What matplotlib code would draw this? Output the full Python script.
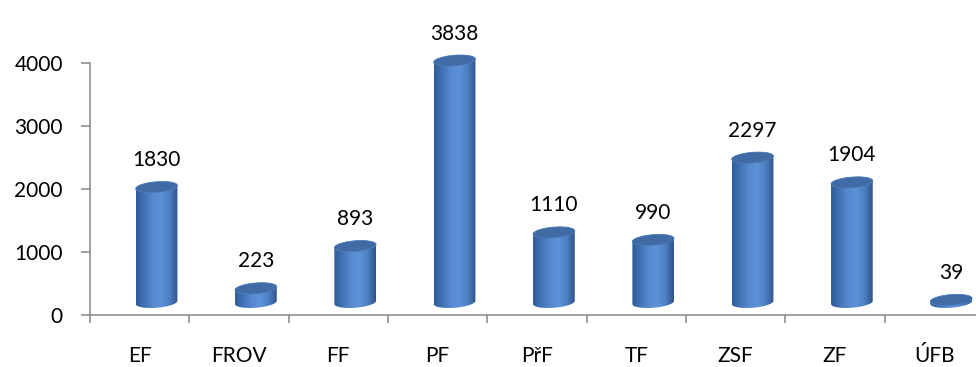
import numpy as np
import matplotlib
matplotlib.use("Agg")
import matplotlib.pyplot as plt
from matplotlib.patches import Polygon
from matplotlib.colors import LinearSegmentedColormap

# data
faculties = ["EF", "FROV", "FF", "PF", "PřF", "TF", "ZSF", "ZF", "ÚFB"]
counts = [1830, 223, 893, 3838, 1110, 990, 2297, 1904, 39]
yticks = [0, 1000, 2000, 3000, 4000]

plt.rcParams["font.family"] = ["Lato", "DejaVu Sans"]
FS = 15
GREY = "#868686"

fig = plt.figure(figsize=(9.76, 3.67), dpi=100)
# y scale ~0.063 px per unit, axes extends a bit past the right edge like the original
ax = fig.add_axes([90 / 976, 52 / 367, 894 / 976, 4500 * 0.063 / 367])

side_cmap = LinearSegmentedColormap.from_list(
    "cyl", ["#2f5c96", "#4273b5", "#5689d0", "#5d92d9", "#4d80c3", "#2e5488"]
)
grad = np.linspace(0, 1, 256).reshape(1, -1)

# pseudo 3d geometry (data units)
dx = 0.17      # depth shift to the right
base = 200     # depth shift upwards
a = 0.21       # half width
b = 85         # half height of ellipse
k = 120        # tilt of the ellipses


def ellipse(xc, yc, t):
    xs = xc + a * np.cos(t)
    ys = yc + b * np.sin(t) + k * (xs - xc)
    return xs, ys


for i, v in enumerate(counts):
    xc = i + dx
    y0 = base
    y1 = base + v
    # side: lower arc of the bottom ellipse, then upper arc of the top one
    bx, by = ellipse(xc, y0, np.linspace(np.pi, 2 * np.pi, 60))
    tx, ty = ellipse(xc, y1, np.linspace(0, np.pi, 60))
    pts = np.column_stack([np.r_[bx, tx], np.r_[by, ty]])
    side = Polygon(pts, closed=True, fc="none", ec="none", transform=ax.transData)
    ax.add_patch(side)
    im = ax.imshow(
        grad,
        cmap=side_cmap,
        extent=[xc - a, xc + a, y0 - 2 * b, y1 + 2 * b],
        aspect="auto",
        zorder=2,
        interpolation="bilinear",
    )
    im.set_clip_path(side)

    ex, ey = ellipse(xc, y1, np.linspace(0, 2 * np.pi, 120))
    ax.add_patch(
        Polygon(np.column_stack([ex, ey]), closed=True, fc="#406ba4",
                ec="#4f7dba", lw=0.6, zorder=3)
    )

    ax.text(xc, y1 + 430, f"{v}", ha="center", va="center", fontsize=FS,
            color="black", zorder=4)

ax.set_xlim(-0.5, len(faculties) - 0.5)
ax.set_ylim(0, 4500)

ax.set_yticks(yticks)
ax.set_yticklabels([str(t) for t in yticks])
ax.set_xticks(range(len(faculties)))
ax.set_xticklabels(faculties)
ax.set_xticks(np.arange(-0.5, len(faculties)), minor=True)

ax.tick_params(axis="y", length=6.5, width=1.1, color=GREY, pad=13, labelsize=FS)
ax.tick_params(axis="x", which="major", length=0, pad=22, labelsize=FS)
ax.tick_params(axis="x", which="minor", length=6, width=1.1, color=GREY)

for s in ["top", "right"]:
    ax.spines[s].set_visible(False)
for s in ["left", "bottom"]:
    ax.spines[s].set_color(GREY)
    ax.spines[s].set_linewidth(1.1)
ax.spines["left"].set_bounds(0, 4000)
ax.patch.set_visible(False)

fig.savefig("out.png", dpi=100)
